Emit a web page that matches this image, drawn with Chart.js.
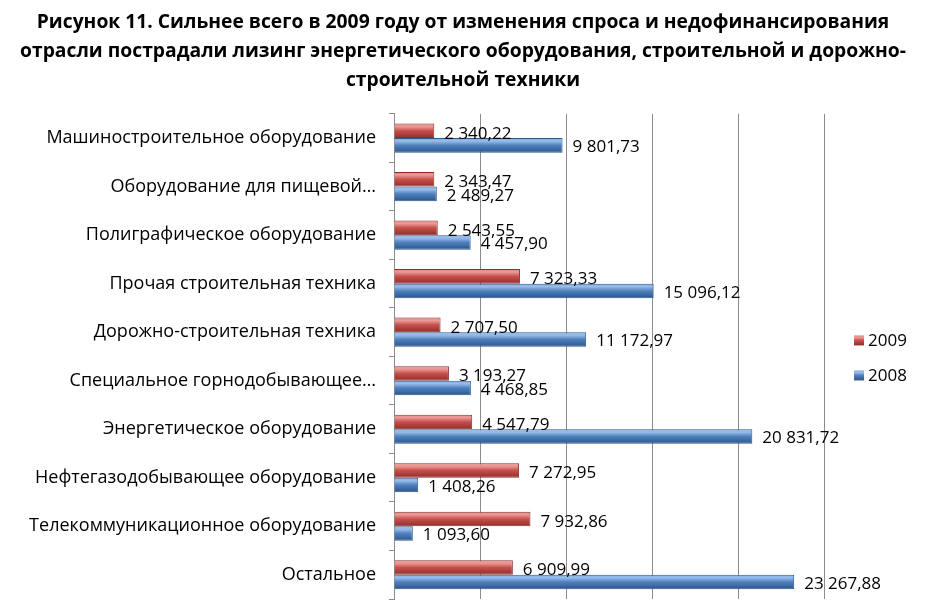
<!DOCTYPE html>
<html>
<head>
<meta charset="utf-8">
<script src="https://cdn.jsdelivr.net/npm/chart.js@4.4.1/dist/chart.umd.min.js"></script>
<style>
  body { margin: 0; background: #fff; }
  #wrap { width: 926px; height: 613px; position: relative; }
</style>
</head>
<body>
<div id="wrap"><canvas id="leasingChart"></canvas></div>
<script>
// данные с рисунка
var categories = [
    'Машиностроительное оборудование',
    'Оборудование для пищевой…',
    'Полиграфическое оборудование',
    'Прочая строительная техника',
    'Дорожно-строительная техника',
    'Специальное горнодобывающее…',
    'Энергетическое оборудование',
    'Нефтегазодобывающее оборудование',
    'Телекоммуникационное оборудование',
    'Остальное'
];
var values2009 = [2340.22, 2343.47, 2543.55, 7323.33, 2707.50, 3193.27, 4547.79, 7272.95, 7932.86, 6909.99];
var values2008 = [9801.73, 2489.27, 4457.90, 15096.12, 11172.97, 4468.85, 20831.72, 1408.26, 1093.60, 23267.88];
var seriesNames = ['2009', '2008'];
var titleLines = [
    'Рисунок 11. Сильнее всего в 2009 году от изменения спроса и недофинансирования',
    'отрасли пострадали лизинг энергетического оборудования, строительной и дорожно-',
    'строительной техники'
];

var FONT = '"Open Sans", Lato, sans-serif';
var redStops = ['#e58682', '#ec9a97', '#c7504c', '#8c2e2b'];
var blueStops = ['#80abe0', '#98bdec', '#4f81bd', '#2a548d'];

function fmt(v) {
    var parts = v.toFixed(2).split('.');
    return parts[0].replace(/\B(?=(\d{3})+(?!\d))/g, ' ') + ',' + parts[1];
}

function makeGradient(c, y0, y1, stops) {
    var g = c.createLinearGradient(0, y0, 0, y1);
    g.addColorStop(0, stops[0]);
    g.addColorStop(0.2, stops[1]);
    g.addColorStop(0.5, stops[2]);
    g.addColorStop(1, stops[3]);
    return g;
}

// "объёмная" заливка столбика
function barFill(stops, solid) {
    return function(ctx) {
        var el = ctx.element;
        if (!el || el.y === undefined || !el.height) return solid;
        return makeGradient(ctx.chart.ctx, el.y - el.height / 2, el.y + el.height / 2, stops);
    };
}

var valueLabels = {
    id: 'valueLabels',
    afterDatasetsDraw: function(chart) {
        var c = chart.ctx;
        c.save();
        c.font = '17px ' + FONT;
        c.fillStyle = '#000';
        c.textBaseline = 'middle';
        c.textAlign = 'left';
        chart.data.datasets.forEach(function(ds, di) {
            var meta = chart.getDatasetMeta(di);
            meta.data.forEach(function(bar, i) {
                var dy = di === 0 ? 3 : 2;
                c.fillText(fmt(ds.data[i]), bar.x + 10, bar.y + dy);
            });
        });
        c.restore();
    }
};

// легенда справа, как в Excel
var sideLegend = {
    id: 'sideLegend',
    afterDraw: function(chart) {
        var c = chart.ctx;
        var a = chart.chartArea;
        var x = a.right + 30;
        var mid = (a.top + a.bottom) / 2;
        var stops = [redStops, blueStops];
        c.save();
        c.font = '17px ' + FONT;
        c.textBaseline = 'middle';
        chart.data.datasets.forEach(function(ds, i) {
            var y = mid - 16 + i * 35;
            c.fillStyle = makeGradient(c, y - 5, y + 5, stops[i]);
            c.fillRect(x, y - 5, 10, 10);
            c.fillStyle = '#000';
            c.fillText(ds.label, x + 14, y + 1);
        });
        c.restore();
    }
};

var grey = '#8c8c8c';

var chart = new Chart(document.getElementById('leasingChart').getContext('2d'), {
    type: 'bar',
    data: {
        labels: categories,
        datasets: [{
            label: seriesNames[0],
            data: values2009,
            backgroundColor: barFill(redStops, '#c0504d'),
            borderColor: '#8a2f2c',
            borderWidth: 1,
            categoryPercentage: 0.6,
            barPercentage: 1.0
        }, {
            label: seriesNames[1],
            data: values2008,
            backgroundColor: barFill(blueStops, '#4f81bd'),
            borderColor: '#2d5689',
            borderWidth: 1,
            categoryPercentage: 0.6,
            barPercentage: 1.0
        }]
    },
    options: {
        indexAxis: 'y',
        responsive: true,
        maintainAspectRatio: false,
        animation: false,
        layout: { padding: { left: 10, right: 10, top: 4, bottom: 14 } },
        scales: {
            x: {
                min: 0,
                max: 25000,
                afterFit: function(scale) { scale.height = 0; },
                ticks: { display: false, stepSize: 5000 },
                grid: { color: grey, drawTicks: false, lineWidth: 1 },
                border: { display: false }
            },
            y: {
                afterFit: function(scale) {
                    scale.width = 384;
                    scale.paddingTop = 0;
                    scale.paddingBottom = 0;
                },
                ticks: { color: '#000', font: { family: FONT, size: 18 }, padding: 13 },
                grid: { offset: true, drawOnChartArea: false, color: grey, tickLength: 5 },
                border: { display: true, color: grey }
            },
            // пустая ось справа — только место под легенду
            legendSpace: {
                type: 'linear',
                axis: 'y',
                position: 'right',
                afterFit: function(scale) {
                    scale.width = 92;
                    scale.paddingTop = 0;
                    scale.paddingBottom = 0;
                },
                ticks: { display: false },
                grid: { display: false },
                border: { display: false }
            }
        },
        plugins: {
            title: {
                display: true,
                text: titleLines,
                color: '#000',
                font: { family: FONT, size: 19.3, weight: 'bold', lineHeight: 1.5 },
                padding: { top: 4, bottom: 19 }
            },
            legend: { display: false },
            tooltip: { enabled: false }
        }
    },
    plugins: [valueLabels, sideLegend]
});

// второй проход — чтобы градиенты легли по уже посчитанным столбикам
chart.update('none');
</script>
</body>
</html>
